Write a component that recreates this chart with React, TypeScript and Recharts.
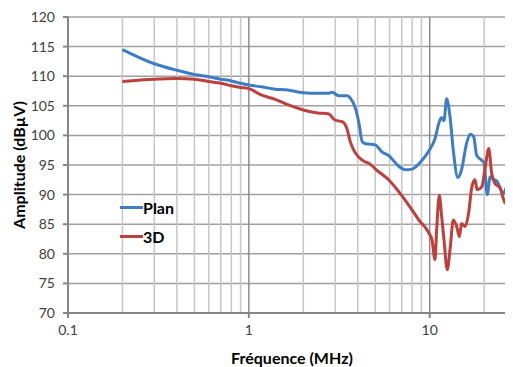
import React from "react";
import {
  LineChart,
  Line,
  XAxis,
  YAxis,
  CartesianGrid,
  ReferenceLine,
} from "recharts";

const planFreq = [
  0.2, 0.3, 0.4, 0.5, 0.6, 0.7, 0.8, 0.9, 1.0, 1.18, 1.4, 1.6, 2.0, 2.4, 2.77,
  2.88, 3.14, 3.5, 3.64, 3.88, 4.06, 4.23, 4.42, 5.0, 5.45, 5.93, 6.74, 7.34,
  8.0, 8.72, 9.5, 10, 10.66, 11.3, 11.6, 12.0, 12.4, 12.97, 13.5, 14.3, 15.0,
  16.0, 16.8, 17.5, 18.2, 19.4, 20.0, 20.8, 21.6, 22.5, 23.5, 25.6, 26.8, 28.5,
];
const planValues = [
  114.5, 112.1, 111.0, 110.3, 109.9, 109.5, 109.2, 108.8, 108.5, 108.2, 107.8,
  107.7, 107.2, 107.1, 107.1, 107.3, 106.7, 106.7, 106.3, 104.6, 102.1, 99.0,
  98.6, 98.4, 97.2, 96.6, 94.8, 94.2, 94.3, 95.2, 96.6, 97.6, 99.3, 102.3,
  103.0, 102.5, 106.2, 103.0, 97.5, 92.9, 94.2, 98.7, 100.2, 99.8, 96.6, 95.8,
  95.3, 90.0, 93.0, 92.6, 92.3, 90.2, 91.4, 87.0,
];

const d3Freq = [
  0.2, 0.3, 0.4, 0.5, 0.6, 0.7, 0.8, 0.9, 1.0, 1.18, 1.4, 1.67, 2.0, 2.4, 2.77,
  2.99, 3.3, 3.48, 3.64, 3.8, 4.06, 4.35, 4.6, 5.2, 5.93, 6.74, 7.67, 8.72, 9.9,
  10.3, 10.7, 10.9, 11.3, 11.6, 12.0, 12.5, 13.0, 13.5, 14.1, 14.6, 15.0, 15.7,
  16.4, 17.1, 17.8, 18.3, 19.4, 20.3, 21.2, 22.0, 22.9, 24.5, 26.1, 28.5,
];
const d3Values = [
  109.1, 109.5, 109.6, 109.5, 109.1, 108.8, 108.4, 108.1, 107.9, 106.8, 106.1,
  105.1, 104.3, 103.8, 103.6, 102.6, 102.3, 101.2, 98.9, 97.5, 96.3, 95.6, 95.3,
  93.9, 92.5, 90.5, 88.2, 85.7, 83.5, 82.3, 79.0, 83.5, 89.9, 86.8, 82.3, 77.3,
  81.2, 85.7, 84.6, 82.9, 85.1, 84.6, 86.8, 91.3, 92.5, 90.8, 91.3, 94.7, 97.8,
  93.6, 91.9, 91.1, 88.6, 88.2,
];

const xTicks = [0.1, 1, 10];
const majorGrid = [1, 10];
const minorGrid = [
  0.2, 0.3, 0.4, 0.5, 0.6, 0.7, 0.8, 0.9, 2, 3, 4, 5, 6, 7, 8, 9, 20,
];
const yTicks = [70, 75, 80, 85, 90, 95, 100, 105, 110, 115, 120];

const series = [
  { name: "Plan", color: "#3d7dc4", freq: planFreq, values: planValues },
  { name: "3D", color: "#be403c", freq: d3Freq, values: d3Values },
];

const font = "Lato, 'Liberation Sans', sans-serif";

export default function App() {
  return (
    <div
      style={{
        width: 505,
        height: 359,
        overflow: "hidden",
        position: "relative",
        fontFamily: font,
      }}
    >
      <LineChart
        width={508}
        height={359}
        margin={{ top: 9, right: 0, bottom: 0, left: 0 }}
      >
        <CartesianGrid vertical={false} stroke="#a0a0a0" strokeWidth={1.5} />
        {minorGrid.map((f) => (
          <ReferenceLine
            key={"m" + f}
            x={f}
            stroke="#c6c6c6"
            strokeWidth={1.5}
          />
        ))}
        {majorGrid.map((f) => (
          <ReferenceLine
            key={"M" + f}
            x={f}
            stroke="#8c8c8c"
            strokeWidth={1.5}
          />
        ))}
        <XAxis
          type="number"
          dataKey="f"
          scale="log"
          domain={[0.1, 30]}
          allowDataOverflow
          ticks={xTicks}
          tickFormatter={(v) => String(v)}
          height={54}
          stroke="#868686"
          strokeWidth={2}
          tickSize={5}
          tickMargin={7}
          tick={{ fontSize: 14, fill: "#404040", fontFamily: font }}
          label={{
            value: "Fréquence (MHz)",
            position: "insideBottom",
            offset: 3,
            style: {
              fontSize: 16,
              fontWeight: "bold",
              fill: "#000",
              fontFamily: font,
            },
          }}
        />
        <YAxis
          type="number"
          domain={[70, 120]}
          ticks={yTicks}
          width={60}
          stroke="#868686"
          strokeWidth={2}
          tickSize={5}
          tickMargin={8}
          tick={{ fontSize: 14, fill: "#404040", fontFamily: font }}
          label={{
            value: "Amplitude (dBµV)",
            angle: -90,
            position: "insideLeft",
            offset: 11,
            style: {
              fontSize: 16,
              fontWeight: "bold",
              fill: "#000",
              fontFamily: font,
              textAnchor: "middle",
            },
          }}
        />
        {series.map((s) => (
          <Line
            key={s.name}
            name={s.name}
            data={s.freq.map((f, i) => ({ f, v: s.values[i] }))}
            dataKey="v"
            type="monotone"
            stroke={s.color}
            strokeWidth={3}
            dot={false}
            isAnimationActive={false}
          />
        ))}
      </LineChart>
      <div style={{ position: "absolute", left: 112, top: 185 }}>
        {series.map((s) => (
          <div
            key={s.name}
            style={{ display: "flex", alignItems: "center", height: 29 }}
          >
            <div style={{ width: 23, height: 3, background: s.color }} />
            <span style={{ fontSize: 16, fontWeight: "bold", color: "#000" }}>
              {s.name}
            </span>
          </div>
        ))}
      </div>
    </div>
  );
}
